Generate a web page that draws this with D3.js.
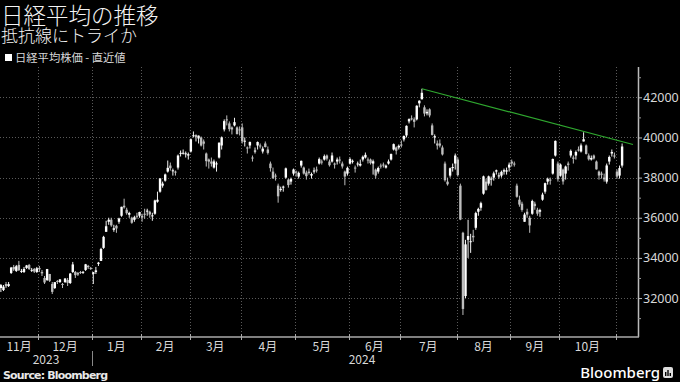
<!DOCTYPE html>
<html>
<head>
<meta charset="utf-8">
<script src="https://cdn.jsdelivr.net/npm/d3@7"></script>
<style>
  body { margin: 0; background: #000; }
  svg { display: block; font-family: "Noto Sans CJK JP", "Noto Sans", sans-serif; }
</style>
</head>
<body>
<svg id="chart" width="680" height="382"></svg>
<script>
// trading days, one line per month
const dates = [
  "2023-11-09","2023-11-10","2023-11-13","2023-11-14","2023-11-15","2023-11-16","2023-11-17","2023-11-20","2023-11-21","2023-11-22","2023-11-24","2023-11-27","2023-11-28","2023-11-29","2023-11-30",
  "2023-12-01","2023-12-04","2023-12-05","2023-12-06","2023-12-07","2023-12-08","2023-12-11","2023-12-12","2023-12-13","2023-12-14","2023-12-15","2023-12-18","2023-12-19","2023-12-20","2023-12-21","2023-12-22","2023-12-25","2023-12-26","2023-12-27","2023-12-28","2023-12-29",
  "2024-01-04","2024-01-05","2024-01-09","2024-01-10","2024-01-11","2024-01-12","2024-01-15","2024-01-16","2024-01-17","2024-01-18","2024-01-19","2024-01-22","2024-01-23","2024-01-24","2024-01-25","2024-01-26","2024-01-29","2024-01-30","2024-01-31",
  "2024-02-01","2024-02-02","2024-02-05","2024-02-06","2024-02-07","2024-02-08","2024-02-09","2024-02-13","2024-02-14","2024-02-15","2024-02-16","2024-02-19","2024-02-20","2024-02-21","2024-02-22","2024-02-26","2024-02-27","2024-02-28","2024-02-29",
  "2024-03-01","2024-03-04","2024-03-05","2024-03-06","2024-03-07","2024-03-08","2024-03-11","2024-03-12","2024-03-13","2024-03-14","2024-03-15","2024-03-18","2024-03-19","2024-03-21","2024-03-22","2024-03-25","2024-03-26","2024-03-27","2024-03-28","2024-03-29",
  "2024-04-01","2024-04-02","2024-04-03","2024-04-04","2024-04-05","2024-04-08","2024-04-09","2024-04-10","2024-04-11","2024-04-12","2024-04-15","2024-04-16","2024-04-17","2024-04-18","2024-04-19","2024-04-22","2024-04-23","2024-04-24","2024-04-25","2024-04-26","2024-04-30",
  "2024-05-01","2024-05-02","2024-05-07","2024-05-08","2024-05-09","2024-05-10","2024-05-13","2024-05-14","2024-05-15","2024-05-16","2024-05-17","2024-05-20","2024-05-21","2024-05-22","2024-05-23","2024-05-24","2024-05-27","2024-05-28","2024-05-29","2024-05-30","2024-05-31",
  "2024-06-03","2024-06-04","2024-06-05","2024-06-06","2024-06-07","2024-06-10","2024-06-11","2024-06-12","2024-06-13","2024-06-14","2024-06-17","2024-06-18","2024-06-19","2024-06-20","2024-06-21","2024-06-24","2024-06-25","2024-06-26","2024-06-27","2024-06-28",
  "2024-07-01","2024-07-02","2024-07-03","2024-07-04","2024-07-05","2024-07-08","2024-07-09","2024-07-10","2024-07-11","2024-07-12","2024-07-16","2024-07-17","2024-07-18","2024-07-19","2024-07-22","2024-07-23","2024-07-24","2024-07-25","2024-07-26","2024-07-29","2024-07-30","2024-07-31",
  "2024-08-01","2024-08-02","2024-08-05","2024-08-06","2024-08-07","2024-08-08","2024-08-09","2024-08-13","2024-08-14","2024-08-15","2024-08-16","2024-08-19","2024-08-20","2024-08-21","2024-08-22","2024-08-23","2024-08-26","2024-08-27","2024-08-28","2024-08-29","2024-08-30",
  "2024-09-02","2024-09-03","2024-09-04","2024-09-05","2024-09-06","2024-09-09","2024-09-10","2024-09-11","2024-09-12","2024-09-13","2024-09-17","2024-09-18","2024-09-19","2024-09-20","2024-09-24","2024-09-25","2024-09-26","2024-09-27","2024-09-30",
  "2024-10-01","2024-10-02","2024-10-03","2024-10-04","2024-10-07","2024-10-08","2024-10-09","2024-10-10","2024-10-11","2024-10-15","2024-10-16","2024-10-17","2024-10-18","2024-10-21","2024-10-22","2024-10-23","2024-10-24","2024-10-25","2024-10-28","2024-10-29","2024-10-30","2024-10-31",
  "2024-11-01","2024-11-05","2024-11-06"
];

const openVals = [
  32500,32400,32700,32600,33250,33550,33350,33650,33300,33300,33500,33650,33400,33450,33300,
  33500,33300,33000,32900,33200,32700,32500,32850,32800,32700,32800,32900,32750,33300,33300,33250,33300,33300,33400,33600,33500,
  33200,33300,33700,33850,34500,35300,35800,35900,35400,35600,35800,36100,36600,36400,36150,36000,35900,36100,36100,
  36100,36200,36350,36300,36100,36200,36800,37300,37600,37850,38300,38600,38350,38300,38500,39200,39200,39200,39100,
  39300,40100,40050,39950,40000,39800,39200,38900,38800,38500,38700,39000,39600,40400,40900,40700,40500,40600,40500,40400,
  40500,39800,39500,39600,39000,39300,39600,39600,39300,39700,39400,38700,38300,38100,37600,37400,37500,38000,37900,37800,38200,
  38300,38050,38600,38500,38250,38300,38100,38300,38400,38700,38800,38900,39100,38800,38800,38700,38800,38900,38700,38300,38200,
  38700,38800,38500,38700,38600,38900,39000,38900,38900,38700,38400,38300,38600,38650,38500,38700,38900,39400,39500,39500,
  39650,39900,40100,40800,40950,40900,40900,41700,41900,41500,41200,41400,40600,40000,39700,39700,39500,38700,37800,38100,38500,38700,
  38900,37600,35250,32100,34900,34800,35100,35500,36300,36500,37200,37800,37700,37900,38000,38300,38100,38100,38300,38300,38500,
  38800,38700,37600,36900,36700,35800,36300,36000,36200,36700,36400,36300,36900,37300,37800,37900,38200,39100,38700,
  38100,38400,38200,38700,39100,39000,39100,39400,39300,39800,39600,39100,38900,39100,38800,38300,38200,38000,37800,38800,39200,39100,
  38300,38100,38600
];

const highVals = [
  32700,32650,32800,32800,33550,33650,33650,33850,33450,33550,33650,33700,33500,33500,33550,
  33600,33400,33100,33450,33200,32800,32800,32900,32950,32750,33000,33000,33250,33800,33350,33300,33350,33350,33700,33650,33550,
  33300,33550,33800,34500,35100,35850,36000,36000,35650,35650,36000,36550,36950,36500,36300,36050,36100,36250,36300,
  36200,36450,36450,36350,36250,36900,37300,37950,37800,38200,38850,38750,38450,38350,39150,39350,39400,39300,39250,
  39950,40300,40150,40100,40050,39900,39250,38950,39000,38900,38800,39750,40050,40900,41100,40800,40550,40980,40550,40550,
  40700,40000,39550,39800,39100,39500,39800,39700,39550,39800,39550,38800,38500,38200,37700,37550,37600,38500,37950,38000,38450,
  38350,38300,38850,38550,38350,38450,38250,38500,38550,39000,38900,39150,39150,38900,39250,38750,39000,39050,38800,38350,38550,
  39000,38900,38600,38800,38900,39100,39250,39000,38950,38900,38450,38550,38700,38750,38650,38900,39200,39700,39550,39650,
  39850,40100,40600,40950,41100,41000,41600,41850,42426,41600,41400,41450,40700,40150,39850,39900,39600,38800,38000,38500,38700,39200,
  39000,37700,35300,34900,35900,35200,35400,36300,36500,36800,38100,37950,38100,38050,38300,38400,38250,38350,38450,38500,38750,
  38900,38800,37700,37100,36800,36250,36450,36100,36900,36800,36500,36450,37250,37750,38000,38000,38950,39850,38800,
  38700,38450,38600,38800,39400,39100,39350,39550,39700,40257,39650,39200,39100,39150,38850,38350,38300,38200,38700,39100,39400,39250,
  38400,38600,39700
];

const lowVals = [
  32300,32350,32500,32550,33200,33350,33300,33350,33250,33250,33450,33400,33300,33250,33250,
  33300,33100,32700,32850,32800,32200,32450,32700,32750,32500,32750,32600,32700,33250,33000,33100,33200,33200,33350,33450,33400,
  32700,33200,33600,33850,34450,35300,35650,35550,35300,35250,35700,36050,36450,36150,36000,35700,35800,35950,36000,
  35800,35950,36100,36000,35850,36150,36750,37250,37500,37800,38250,38350,38100,38100,38400,39050,39150,39000,38900,
  39250,40000,39800,39700,39550,39400,38550,38450,38550,38450,38300,38950,39400,40300,40600,40300,40150,40550,40150,40100,
  39700,39550,39200,39450,38800,39200,39400,39450,39200,39500,39150,38300,37950,37850,36750,37300,37300,37950,37500,37650,38100,
  38050,37950,38500,38150,37900,38150,37950,38200,38250,38650,38650,38850,38850,38550,38750,38450,38650,38700,38450,37620,38100,
  38650,38700,38250,38550,38550,38800,38950,38700,38650,38150,37950,38200,38450,38500,38450,38650,38850,39350,39150,39400,
  39500,39800,40000,40700,40850,40500,40850,41500,41900,41050,41100,41000,40100,39700,39400,39500,39100,37800,37600,38000,38300,38400,
  38050,35880,31156,32000,34000,34250,34800,35400,36100,36350,37150,37350,37600,37600,37850,38150,37950,38000,38150,38150,38300,
  38550,38550,37000,36550,36300,35800,36000,35250,36150,36400,36100,36050,36850,37200,37650,37650,38150,39050,37800,
  38050,37650,37900,38350,39000,38700,38900,39300,39250,39800,39150,38850,38850,38900,38400,37900,37950,37800,37700,38650,39050,38950,
  37950,37950,38500
];

const closeVals = [
  32646,32568,32585,32695,33519,33424,33585,33388,33354,33452,33625,33447,33408,33321,33486,
  33431,33231,32775,33445,32858,32307,32791,32843,32926,32686,32970,32758,33219,33675,33140,33169,33254,33305,33681,33539,33464,
  33288,33377,33763,34441,35049,35577,35901,35619,35477,35466,35963,36546,36517,36226,36236,35751,36026,36065,36286,
  36011,36158,36354,36160,36119,36863,36897,37963,37703,38157,38487,38470,38363,38262,39098,39233,39239,39208,39166,
  39910,40109,40097,40090,39598,39688,38820,38797,38695,38807,38707,39740,40003,40815,40888,40414,40398,40762,40168,40369,
  39803,39838,39451,39773,38992,39347,39773,39581,39442,39523,39232,38471,37961,38079,37068,37438,37552,38460,37628,37934,38405,
  38274,38236,38835,38202,38073,38229,38179,38356,38385,38920,38787,39069,38946,38617,39103,38646,38900,38855,38556,38054,38487,
  38923,38837,38490,38703,38683,39038,39134,38876,38720,38814,38102,38482,38570,38633,38596,38804,39173,39667,39341,39583,
  39631,40074,40580,40913,40912,40780,41580,41831,42224,41190,41275,41097,40126,40063,39599,39594,39154,37869,37667,38468,38525,39101,
  38126,35909,31458,34675,35089,34831,35025,36232,36442,36726,38062,37388,38062,37951,38211,38364,38110,38288,38371,38362,38647,
  38700,38686,37047,36657,36391,36159,36159,35619,36833,36581,36203,36380,37155,37723,37940,37870,38925,39829,37919,
  38651,37808,38552,38635,39332,38937,39277,39380,39605,39910,39180,38911,38981,38954,38411,38104,38143,37913,38605,39027,39277,39081,
  38053,38474,39550
];

// resistance line: two highs it touches
const trendDates = ["2024-07-11", "2024-10-15"];
const trendValues = [42426, 40300];

const yTicks = [32000, 34000, 36000, 38000, 40000, 42000];
const yMinorTicks = [31000, 33000, 35000, 37000, 39000, 41000, 43000];
const monthLabels = ["11月","12月","1月","2月","3月","4月","5月","6月","7月","8月","9月","10月"];
const yearLabels = ["2023", "2024"];

const W = 680, H = 382;
const plotL = 0, plotR = 638, plotT = 67, plotB = 337;

const svg = d3.select("#chart");
svg.append("rect").attr("width", W).attr("height", H).attr("fill", "#000");

const data = dates.map((d, i) => ({ date: d, o: openVals[i], h: highVals[i], l: lowVals[i], c: closeVals[i] }));

const x = d3.scaleBand().domain(dates).range([0, 623]).paddingInner(0.3);
const y = d3.scaleLinear().domain([30060, 43510]).range([plotB, plotT]);
const half = x.bandwidth() / 2;
const gap = x.step() * x.paddingInner() / 2;

// month boundaries
const monthKeys = Array.from(new Set(dates.map(d => d.slice(0, 7))));
const months = monthKeys.map(k => {
  const ds = dates.filter(d => d.slice(0, 7) == k);
  return { key: k, start: x(ds[0]) - gap, end: x(ds[ds.length - 1]) + x.bandwidth() + gap, n: ds.length };
});
months[0].start = plotL;

// grid
const grid = svg.append("g").attr("stroke", "#5a5a5a").attr("stroke-width", 1).attr("stroke-dasharray", "1,2");
grid.selectAll(".hg").data(yTicks).enter().append("line")
  .attr("x1", plotL).attr("x2", plotR)
  .attr("y1", d => Math.round(y(d)) + 0.5).attr("y2", d => Math.round(y(d)) + 0.5);
grid.selectAll(".vg").data(months.slice(1)).enter().append("line")
  .attr("x1", d => Math.round(d.start) + 0.5).attr("x2", d => Math.round(d.start) + 0.5)
  .attr("y1", plotT).attr("y2", plotB);

// candles
const candles = svg.append("g").selectAll("g").data(data).enter().append("g");
candles.append("line")
  .attr("x1", d => x(d.date) + half).attr("x2", d => x(d.date) + half)
  .attr("y1", d => y(d.h)).attr("y2", d => y(d.l))
  .attr("stroke", d => d.c >= d.o ? "#f2f2f2" : "#bdbdbd").attr("stroke-width", 1);
candles.append("rect")
  .attr("x", d => x(d.date) - 0.3)
  .attr("width", x.bandwidth() + 0.6)
  .attr("y", d => y(Math.max(d.o, d.c)))
  .attr("height", d => Math.max(1, Math.abs(y(d.o) - y(d.c))))
  .attr("fill", d => d.c >= d.o ? "#ffffff" : "#bdbdbd");

// resistance line, extended to the right edge
const tx0 = x(trendDates[0]) + half, tx1 = x(trendDates[1]) + half;
const slope = (trendValues[1] - trendValues[0]) / (tx1 - tx0);
const txEnd = 633;
svg.append("line")
  .attr("x1", tx0).attr("y1", y(trendValues[0]))
  .attr("x2", txEnd).attr("y2", y(trendValues[0] + slope * (txEnd - tx0)))
  .attr("stroke", "#2fa82f").attr("stroke-width", 1.2);

// right axis
svg.append("line").attr("x1", plotR + 0.5).attr("x2", plotR + 0.5).attr("y1", plotT).attr("y2", plotB)
  .attr("stroke", "#bbb").attr("stroke-width", 1.5);
const yAxis = svg.append("g").attr("transform", `translate(${plotR},0)`)
  .call(d3.axisRight(y).tickValues(yTicks).tickSize(4).tickPadding(1).tickFormat(d3.format("d")));
yAxis.select(".domain").remove();
yAxis.selectAll("line").attr("stroke", "#bbb");
yAxis.selectAll("text").attr("fill", "#d8d8d8").attr("font-size", 12.5)
  .attr("font-family", "'Noto Sans', sans-serif");
const yMinor = svg.append("g").attr("transform", `translate(${plotR},0)`)
  .call(d3.axisRight(y).tickValues(yMinorTicks).tickSize(3).tickFormat(""));
yMinor.select(".domain").remove();
yMinor.selectAll("line").attr("stroke", "#999");

// bottom axis
svg.append("line").attr("x1", plotL).attr("x2", plotR + 1).attr("y1", plotB).attr("y2", plotB)
  .attr("stroke", "#aaa").attr("stroke-width", 1.5);
svg.append("g").selectAll("line").data(months.slice(1)).enter().append("line")
  .attr("x1", d => Math.round(d.start) + 0.5).attr("x2", d => Math.round(d.start) + 0.5)
  .attr("y1", plotB - 3).attr("y2", plotB + 3)
  .attr("stroke", "#aaa");

const labelled = months.filter(m => m.n >= 5);
svg.append("g").selectAll("text").data(labelled).enter().append("text")
  .attr("x", d => (d.start + Math.min(d.end, 623)) / 2)
  .attr("y", 350.5)
  .attr("text-anchor", "middle")
  .attr("fill", "#d8d8d8").attr("font-size", 12)
  .text((d, i) => monthLabels[i]);

// years
const jan = months.find(m => m.key == "2024-01");
svg.append("line").attr("x1", Math.round(jan.start) + 0.5).attr("x2", Math.round(jan.start) + 0.5)
  .attr("y1", 351).attr("y2", 366).attr("stroke", "#888");
const yearPos = [(plotL + jan.start) / 2, (jan.start + 632) / 2];
svg.append("g").selectAll("text").data(yearLabels).enter().append("text")
  .attr("x", (d, i) => yearPos[i]).attr("y", 363.5)
  .attr("text-anchor", "middle")
  .attr("fill", "#d8d8d8").attr("font-size", 12)
  .text(d => d);

// titles
svg.append("text").attr("x", 1).attr("y", 24).attr("fill", "#f4f4f4").attr("font-size", 22.5)
  .attr("font-weight", 300)
  .text("日経平均の推移");
svg.append("text").attr("x", 1).attr("y", 41.5).attr("fill", "#f4f4f4").attr("font-size", 17)
  .attr("font-weight", 300)
  .text("抵抗線にトライか");
svg.append("rect").attr("x", 5).attr("y", 54).attr("width", 7).attr("height", 7).attr("fill", "#fff");
svg.append("text").attr("x", 15).attr("y", 61.5).attr("fill", "#d8d8d8").attr("font-size", 11.3)
  .text("日経平均株価 - 直近値");

// footer
svg.append("text").attr("x", 3).attr("y", 379).attr("fill", "#e8e8e8")
  .attr("font-size", 11).attr("font-weight", "bold")
  .attr("font-family", "'DejaVu Sans', sans-serif").attr("textLength", 105)
  .text("Source: Bloomberg");
svg.append("text").attr("x", 660).attr("y", 378).attr("text-anchor", "end")
  .attr("fill", "#fff").attr("font-size", 15).attr("font-family", "'Noto Sans', sans-serif")
  .attr("font-weight", 500)
  .text("Bloomberg");
const logo = svg.append("g").attr("transform", "translate(663,367)");
logo.append("rect").attr("width", 10).attr("height", 11).attr("rx", 2).attr("fill", "#ddd");
logo.selectAll(".bar").data([4, 6, 3]).enter().append("rect")
  .attr("x", (d, i) => 2 + i * 2.3).attr("y", d => 9 - d).attr("width", 1.4).attr("height", d => d)
  .attr("fill", "#000");
</script>
</body>
</html>
